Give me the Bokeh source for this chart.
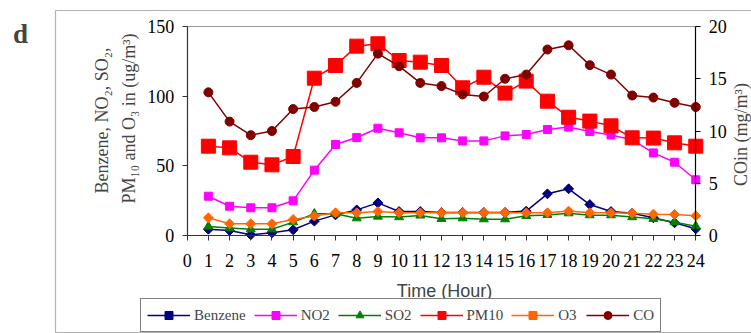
import numpy as np
from bokeh.plotting import figure
from bokeh.models import (Range1d, LinearAxis, FixedTicker, Legend, LegendItem,
                          Label, BoxAnnotation)
from bokeh.embed import file_html
from bokeh.resources import INLINE

hours = list(range(1, 25))
benzene = [4.5, 3.6, 0.5, 1.9, 4.1, 10.3, 14.8, 18.4, 23.4, 17.2, 17.2, 16.5,
           16.5, 16.5, 16.5, 17.5, 29.9, 33.5, 22.2, 17.2, 16.0, 12.7, 9.1, 4.8]
no2 = [28.2, 21.0, 19.9, 19.9, 24.9, 46.9, 65.3, 70.3, 77.0, 73.7, 70.1, 70.1,
       67.9, 67.9, 71.5, 72.5, 76.1, 77.8, 74.6, 72.2, 68.7, 59.3, 52.6, 40.0]
so2 = [6.5, 5.3, 4.5, 4.5, 9.6, 15.6, 15.6, 12.4, 13.6, 13.2, 14.4, 12.0,
       12.4, 11.7, 11.7, 14.1, 14.8, 16.0, 14.6, 14.6, 13.2, 12.0, 9.6, 6.7]
pm10 = [64.1, 62.9, 52.6, 50.7, 56.7, 112.9, 122.0, 135.9, 137.6, 125.6, 124.4, 122.0,
        106.0, 113.6, 102.2, 110.8, 96.4, 84.9, 82.1, 78.7, 70.1, 69.9, 66.5, 64.1]
o3 = [12.7, 8.4, 8.4, 8.4, 11.5, 13.9, 16.3, 16.3, 17.2, 16.3, 16.3, 16.3,
      16.3, 16.3, 16.3, 16.3, 16.3, 17.5, 16.3, 16.3, 16.0, 15.3, 15.1, 14.1]
co = [13.7, 10.9, 9.6, 10.0, 12.1, 12.3, 12.8, 14.6, 17.4, 16.2, 14.6, 14.3,
      13.5, 13.3, 15.0, 15.4, 17.8, 18.2, 16.3, 15.4, 13.4, 13.2, 12.7, 12.3]

x_ticks = list(range(0, 25))
left_ticks = [0, 50, 100, 150]
right_ticks = [0, 5, 10, 15, 20]

SERIF = "'Liberation Serif'"
SANS = "'Liberation Sans'"

# screen layout: the canvas starts at the page origin
ORG = 0
W, H = 751, 333
PX0, PXS = 186.7, 21.19      # screen x of hour 0, px per hour
PY0, PYS = 235.0, 209 / 150  # screen y of value 0, px per unit
CO_K = 20 / 150

def dx(px):
    return (px - PX0) / PXS

def dy(py):
    return (PY0 - py) / PYS

p = figure(width=W, height=H, output_backend="svg", toolbar_location=None,
           x_range=Range1d(dx(ORG), dx(ORG + W)), y_range=Range1d(dy(ORG + H), dy(ORG)),
           min_border=0, min_border_left=0, min_border_right=0,
           min_border_top=0, min_border_bottom=0)
p.extra_y_ranges = {"co": Range1d(dy(ORG + H) * CO_K, dy(ORG) * CO_K)}
p.xaxis.visible = False
p.yaxis.visible = False
p.xgrid.visible = False
p.ygrid.visible = False
p.outline_line_color = None
p.background_fill_color = "white"
p.border_fill_color = "white"

def style_axis(ax, color):
    ax.major_label_text_font = SERIF
    ax.major_label_text_font_size = "18px"
    ax.major_label_text_color = "black"
    ax.axis_line_color = color
    ax.axis_line_width = 1.2
    ax.major_tick_line_color = color
    ax.minor_tick_line_color = None
    ax.major_tick_in = 0
    ax.major_tick_out = 5

xax = LinearAxis(fixed_location=0, bounds=(0, 24), ticker=FixedTicker(ticks=x_ticks),
                 major_label_standoff=13)
style_axis(xax, "#333333")
p.add_layout(xax, "below")

lax = LinearAxis(fixed_location=0, bounds=(0, 150), ticker=FixedTicker(ticks=left_ticks),
                 major_label_standoff=8)
style_axis(lax, "#333333")
p.add_layout(lax, "left")

rax = LinearAxis(y_range_name="co", fixed_location=24, bounds=(0, 20),
                 ticker=FixedTicker(ticks=right_ticks), major_label_standoff=8)
style_axis(rax, "black")
p.add_layout(rax, "right")

tax = LinearAxis(fixed_location=150, bounds=(0, 24), ticker=FixedTicker(ticks=[]),
                 major_label_text_font_size="0px", axis_line_color="#999999",
                 major_tick_line_color=None, minor_tick_line_color=None)
p.add_layout(tax, "above")

items = []
def series(name, ys, color, marker, size, angle=0.0, yr="default"):
    lr = p.line(hours, ys, line_color=color, line_width=1.5, y_range_name=yr)
    sr = p.scatter(hours, ys, marker=marker, size=size, angle=angle,
                   fill_color=color, line_color=color, y_range_name=yr)
    items.append(LegendItem(label=name, renderers=[lr, sr]))

series("Benzene", benzene, "#000080", "square", 7, np.pi / 4)
series("NO2", no2, "#FF00FF", "square", 8)
series("SO2", so2, "#008000", "triangle", 9)
series("PM10", pm10, "#FF0000", "square", 14)
series("O3", o3, "#FF6600", "square", 7, np.pi / 4)
series("CO", co, "#800000", "circle", 9, yr="co")

# outer frame of the figure panel
p.add_layout(BoxAnnotation(left=dx(55), right=dx(ORG + W + 20), top=dy(10), bottom=dy(332),
                           fill_alpha=0, line_color="black", line_width=1.2))

legend = Legend(items=items, orientation="horizontal",
                location=(140 - ORG, ORG + H - 332),
                border_line_color="black", border_line_width=1,
                label_text_font=SERIF, label_text_font_size="15px",
                glyph_width=43, glyph_height=20, label_standoff=4, spacing=8,
                padding=6, margin=0, background_fill_alpha=1)
p.add_layout(legend)

p.add_layout(Label(x=dx(20), y=dy(33), text="d", text_font=SERIF, text_font_style="bold",
                   text_font_size="27px", text_align="center",
                   text_baseline="alphabetic"))
p.add_layout(Label(x=dx(101), y=dy(120), text="Benzene, NO\u2082, SO\u2082,",
                   angle=np.pi / 2, text_font=SERIF, text_font_size="18px",
                   text_align="center", text_baseline="alphabetic"))
p.add_layout(Label(x=dx(128), y=dy(118), text="PM\u2081\u2080 and O\u2083 in (ug/m\u00b3)",
                   angle=np.pi / 2, text_font=SERIF, text_font_size="18px",
                   text_align="center", text_baseline="alphabetic"))
p.add_layout(Label(x=dx(740), y=dy(134), text="COin (mg/m\u00b3)", angle=np.pi / 2,
                   text_font=SERIF, text_font_size="18px", text_align="center",
                   text_baseline="middle"))
p.add_layout(Label(x=dx(444), y=dy(290), text="Time (Hour)", text_font=SANS,
                   text_font_size="18px", text_align="center", text_baseline="middle"))

open("out.html", "w").write(file_html(p, INLINE))
